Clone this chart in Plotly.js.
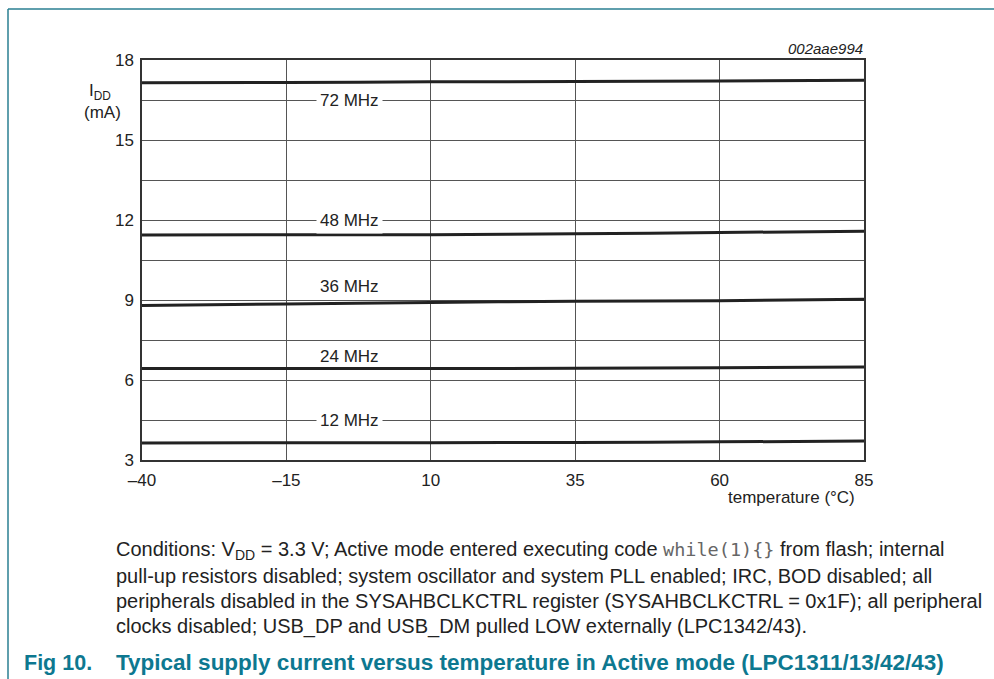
<!DOCTYPE html>
<html>
<head>
<meta charset="utf-8">
<script src="https://cdn.plot.ly/plotly-3.0.1.min.js"></script>
<style>
html,body{margin:0;padding:0;background:#fff;}
#chart{width:994px;height:679px;}
</style>
</head>
<body>
<div id="chart"></div>
<script>
// ---- data ----
var temperature = [-40, -15, 10, 35, 60, 85];
var seriesNames = ['72 MHz', '48 MHz', '36 MHz', '24 MHz', '12 MHz'];
var idd72 = [17.15, 17.16, 17.18, 17.19, 17.21, 17.24];
var idd48 = [11.44, 11.45, 11.45, 11.48, 11.53, 11.58];
var idd36 = [8.79, 8.85, 8.91, 8.95, 8.97, 9.03];
var idd24 = [6.43, 6.43, 6.43, 6.44, 6.46, 6.49];
var idd12 = [3.64, 3.65, 3.65, 3.66, 3.68, 3.71];
var labelX = [-4, -4, -4, -4, -4];
var labelY = [16.5, 12, 9.52, 6.9, 4.5];
var xTickVals = [-40, -15, 10, 35, 60, 85];
var xTickText = ['\u201340', '\u201315', '10', '35', '60', '85'];
var yTickVals = [3, 6, 9, 12, 15, 18];
var yTickText = ['3', '6', '9', '12', '15', '18'];

// ---- layout helpers (pixel -> paper) ----
var L = 142, R = 864, T = 60, B = 460;
function px(p) { return (p - L) / (R - L); }
function py(p) { return (B - p) / (B - T); }

var seriesData = [idd72, idd48, idd36, idd24, idd12];
var traces = seriesData.map(function (ys, i) {
  return {
    x: temperature, y: ys, type: 'scatter', mode: 'lines',
    name: seriesNames[i], line: { color: '#222', width: 3, shape: 'spline' },
    hoverinfo: 'x+y+name'
  };
});

var font = 'Liberation Sans, Arial, Helvetica, sans-serif';
var annotations = [];
seriesNames.forEach(function (n, i) {
  annotations.push({
    x: labelX[i], y: labelY[i], xref: 'x', yref: 'y', text: n, showarrow: false,
    font: { family: font, size: 17, color: '#222' },
    bgcolor: (i === 0 || i === 1 || i === 4) ? '#fff' : 'rgba(255,255,255,0)',
    borderpad: 3, xanchor: 'center', yanchor: 'middle'
  });
});
annotations.push({
  x: px(865), y: py(49), xref: 'paper', yref: 'paper', text: '<i>002aae994</i>',
  showarrow: false, xanchor: 'right', yanchor: 'middle',
  font: { family: font, size: 15, color: '#222' }
});
annotations.push({
  x: px(87), y: py(92), xref: 'paper', yref: 'paper', text: 'I<sub>DD</sub>',
  showarrow: false, xanchor: 'left', yanchor: 'middle',
  font: { family: font, size: 17, color: '#222' }
});
annotations.push({
  x: px(102), y: py(112), xref: 'paper', yref: 'paper', text: '(mA)',
  showarrow: false, xanchor: 'center', yanchor: 'middle',
  font: { family: font, size: 17, color: '#222' }
});
annotations.push({
  x: px(857), y: py(497), xref: 'paper', yref: 'paper', text: 'temperature (\u00b0C)',
  showarrow: false, xanchor: 'right', yanchor: 'middle',
  font: { family: font, size: 17, color: '#222' }
});
var condLines = [
  'Conditions: V<sub>DD</sub> = 3.3 V; Active mode entered executing code <span style="font-family:DejaVu Sans Mono;font-size:18.5px;color:#666">while(1){}</span> from flash; internal',
  'pull-up resistors disabled; system oscillator and system PLL enabled; IRC, BOD disabled; all',
  'peripherals disabled in the SYSAHBCLKCTRL register (SYSAHBCLKCTRL = 0x1F); all peripheral',
  'clocks disabled; USB_DP and USB_DM pulled LOW externally (LPC1342/43).'
];
var condY = [550, 576, 601, 626];
condLines.forEach(function (t, i) {
  annotations.push({
    x: px(114), y: py(condY[i]), xref: 'paper', yref: 'paper', text: t,
    showarrow: false, xanchor: 'left', yanchor: 'middle', align: 'left',
    font: { family: font, size: 20, color: '#222' }
  });
});
annotations.push({
  x: px(22), y: py(663), xref: 'paper', yref: 'paper', text: '<b>Fig 10.</b>',
  showarrow: false, xanchor: 'left', yanchor: 'middle',
  font: { family: font, size: 21.5, color: '#0d7890' }
});
annotations.push({
  x: px(114), y: py(663), xref: 'paper', yref: 'paper',
  text: '<b>Typical supply current versus temperature in Active mode (LPC1311/13/42/43)</b>',
  showarrow: false, xanchor: 'left', yanchor: 'middle',
  font: { family: font, size: 22.5, color: '#0d7890' }
});

var shapes = [
  { type: 'line', xref: 'paper', yref: 'paper', x0: px(8), x1: px(994), y0: py(9), y1: py(9),
    line: { color: '#2a7f92', width: 1.5 } },
  { type: 'line', xref: 'paper', yref: 'paper', x0: px(8), x1: px(8), y0: py(9), y1: py(679),
    line: { color: '#2a7f92', width: 1.5 } }
];

var layout = {
  width: 994, height: 679,
  margin: { l: L, r: 994 - R, t: T, b: 679 - B, pad: 0 },
  paper_bgcolor: '#fff', plot_bgcolor: '#fff',
  showlegend: false,
  font: { family: font, size: 17, color: '#222' },
  xaxis: {
    range: [-40, 85], tickmode: 'array', tickvals: xTickVals, ticktext: xTickText,
    showgrid: true, gridcolor: '#555', gridwidth: 1, zeroline: false,
    showline: true, linecolor: '#333', linewidth: 1.5, mirror: true,
    ticks: '', ticklabelstandoff: 4, tickfont: { family: font, size: 17, color: '#222' },
    fixedrange: true
  },
  yaxis: {
    range: [3, 18], tickmode: 'array', tickvals: yTickVals, ticktext: yTickText,
    showgrid: true, gridcolor: '#555', gridwidth: 1, zeroline: false,
    minor: { dtick: 1.5, tick0: 3, showgrid: true, gridcolor: '#555', gridwidth: 1, ticks: '' },
    showline: true, linecolor: '#333', linewidth: 1.5, mirror: true,
    ticks: '', ticklabelstandoff: 3, tickfont: { family: font, size: 17, color: '#222' },
    fixedrange: true
  },
  annotations: annotations,
  shapes: shapes
};

Plotly.newPlot('chart', traces, layout, { displayModeBar: false });
</script>
</body>
</html>
